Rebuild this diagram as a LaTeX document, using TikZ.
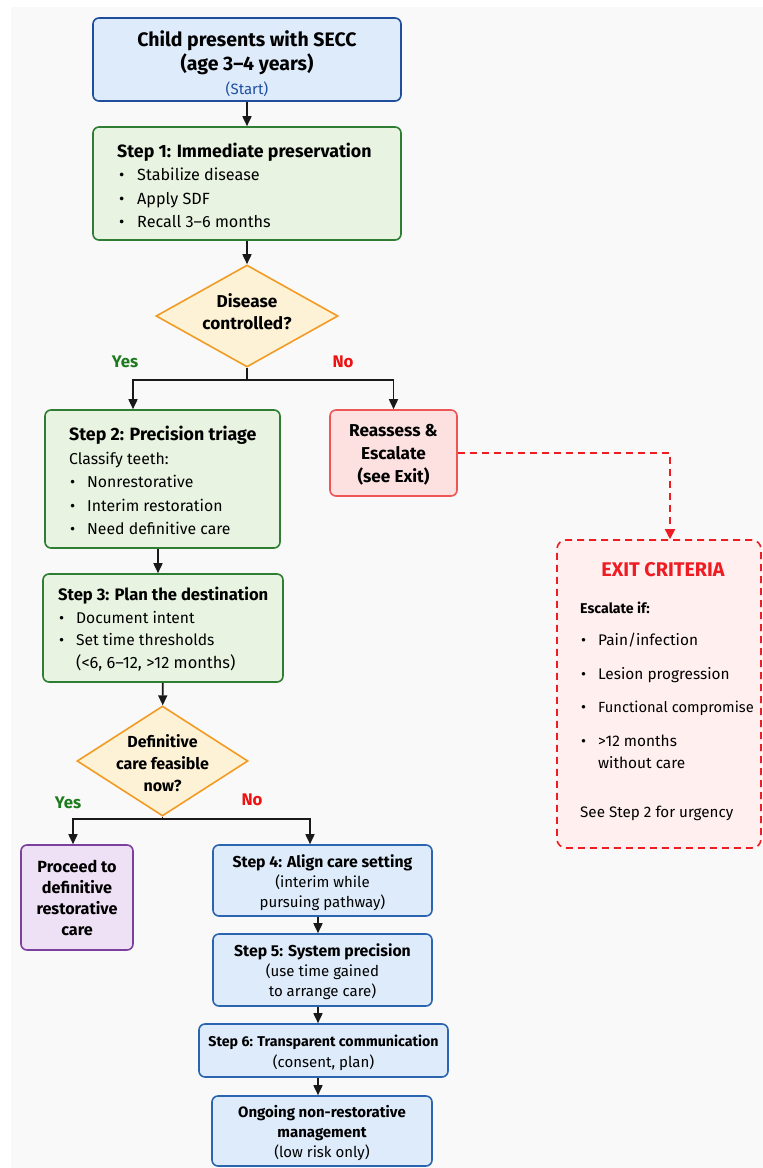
\documentclass[tikz,border=0pt]{standalone}
\usepackage{fontspec}
\setmainfont{Fira Sans}
\usetikzlibrary{shapes.geometric,arrows.meta,calc}
\definecolor{bgc}{HTML}{F9F9F9}
\definecolor{navy}{HTML}{1F4E9C}
\definecolor{bluefill}{HTML}{DDEBFA}
\definecolor{greenb}{HTML}{2E7D32}
\definecolor{greenf}{HTML}{E8F3E1}
\definecolor{orangeb}{HTML}{F29B24}
\definecolor{yellowf}{HTML}{FEF2D6}
\definecolor{redb}{HTML}{F05555}
\definecolor{redf}{HTML}{FDE1E1}
\definecolor{exitred}{HTML}{EE1D23}
\definecolor{exitf}{HTML}{FFEFEF}
\definecolor{purpb}{HTML}{7B3F9E}
\definecolor{purpf}{HTML}{EEE0F5}
\definecolor{blueb}{HTML}{2B65B0}
\definecolor{yesg}{HTML}{1E7A1E}
\definecolor{nor}{HTML}{EE1111}
\definecolor{startc}{HTML}{1F4FA0}
\newcommand\fsz[2]{\fontsize{#1}{#2}\selectfont}
\newcommand\bul{\makebox[20pt][l]{\hspace{2pt}•}}
\newcommand\buls{\makebox[18pt][l]{\hspace{1pt}•}}
\begin{document}
\begin{tikzpicture}[x=1pt,y=-1pt,
  box/.style={draw, rounded corners=6pt, line width=1.6pt, inner sep=0pt},
  startbox/.style={box, draw=navy, fill=bluefill},
  greenbox/.style={box, draw=greenb, fill=greenf},
  redbox/.style={box, draw=redb, fill=redf},
  purpbox/.style={box, draw=purpb, fill=purpf},
  bluebox/.style={box, draw=blueb, fill=bluefill},
  exitbox/.style={box, draw=exitred, fill=exitf, dash pattern=on 7pt off 5pt, rounded corners=9pt},
  dec/.style={diamond, draw=orangeb, fill=yellowf, line width=1.6pt, inner sep=0pt},
  ctext/.style={align=center, inner sep=0pt, font=\fsz{17.2}{22}\bfseries},
  ltext/.style={align=left, inner sep=0pt, anchor=west, font=\fsz{16}{23.5}},
  etext/.style={inner sep=0pt, anchor=west, text height=10pt, text depth=3pt, font=\fsz{15.4}{20}},
  lab/.style={inner sep=0pt, font=\fsz{16.8}{18}\bfseries},
  ln/.style={line width=1.6pt, draw=black!90},
  arr/.style={ln, -{Triangle[length=10pt,width=9pt]}},
  darr/.style={line width=1.6pt, draw=exitred, dash pattern=on 7pt off 5pt, -{Triangle[length=10pt,width=10pt]}},
]
\useasboundingbox (0,0) rectangle (763,1168);
\fill[white] (0,0) rectangle (763,1168);
\fill[bgc] (11,7) rectangle (763,1168);

% start
\node[startbox, minimum width=308pt, minimum height=83pt] (start) at (247,59.5) {};
\node[ctext, font=\fsz{19.5}{24}\bfseries] (startt) at (247,63.5) {Child presents with SECC\\(age 3–4 years)\\{\fsz{15}{23}\mdseries\color{startc}(Start)}};

% step 1
\node[greenbox, minimum width=308pt, minimum height=113pt] (s1) at (247,183.5) {};
\node[ltext, font=\fsz{16.2}{23.5}] (s1t) at (117,185.5) {{\fsz{17.8}{23.5}\bfseries Step 1: Immediate preservation}\\\bul Stabilize disease\\\bul Apply SDF\\\bul Recall 3–6 months};

% decision 1
\node[dec, minimum width=182pt, minimum height=102pt] (d1) at (247,316) {};
\node[ctext] (d1t) at (247,312) {Disease\\controlled?};

% step 2
\node[greenbox, minimum width=235pt, minimum height=138pt] (s2) at (162.5,479) {};
\node[ltext, font=\fsz{15.8}{23.5}] (s2t) at (69,480.5) {{\fsz{17.8}{23.5}\bfseries Step 2: Precision triage}\\Classify teeth:\\\buls Nonrestorative\\\buls Interim restoration\\\buls Need definitive care};

% reassess
\node[redbox, minimum width=127pt, minimum height=86pt] (re) at (393.5,453) {};
\node[ctext, font=\fsz{17.2}{23}\bfseries] (ret) at (393.5,455) {Reassess \&\\Escalate\\(see Exit)};

% exit
\node[exitbox, minimum width=204pt, minimum height=308pt] (ex) at (659,694) {};
\node[inner sep=0pt, font=\fsz{19.8}{20}\bfseries, text=exitred] (ex0) at (663,570) {EXIT CRITERIA};
\node[etext, font=\fsz{14.2}{20}\bfseries] (ex1) at (580,610) {Escalate if:};
\node[etext] (ex2) at (580,642) {\makebox[18pt][l]{\hspace{1pt}•}Pain/infection};
\node[etext] (ex3) at (580,676) {\makebox[18pt][l]{\hspace{1pt}•}Lesion progression};
\node[etext] (ex4) at (580,709) {\makebox[18pt][l]{\hspace{1pt}•}{\fsz{14.7}{20}Functional compromise}};
\node[etext] (ex5) at (580,743) {\makebox[18pt][l]{\hspace{1pt}•}>12 months};
\node[etext] (ex6) at (598,765) {without care};
\node[etext, font=\fsz{15.2}{20}] (ex7) at (580,814) {See Step 2 for urgency};

% step 3
\node[greenbox, minimum width=240pt, minimum height=108pt] (s3) at (163,628) {};
\node[ltext, font=\fsz{15.6}{22.5}] (s3t) at (58,629) {{\fsz{16.6}{22.5}\bfseries Step 3: Plan the destination}\\\buls Document intent\\\buls Set time thresholds\\\hspace*{18pt}{\fsz{16.4}{22.5}(<6, 6–12, >12 months)}};

% decision 2
\node[dec, minimum width=171pt, minimum height=110pt] (d2) at (162.5,761) {};
\node[ctext, font=\fsz{16}{22}\bfseries] (d2t) at (162.5,763) {Definitive\\care feasible\\now?};

% purple
\node[purpbox, minimum width=112pt, minimum height=105pt] (pu) at (77,897.5) {};
\node[ctext, font=\fsz{16.2}{21}\bfseries] (put) at (77,897.5) {Proceed to\\definitive\\restorative\\care};

% steps 4-6 + final
\node[bluebox, minimum width=219pt, minimum height=71pt] (s4) at (322.5,880.5) {};
\node[ctext, font=\fsz{15}{20}\mdseries] (s4t) at (322.5,883) {{\fsz{15.8}{20}\bfseries Step 4: Align care setting}\\(interim while\\pursuing pathway)};
\node[bluebox, minimum width=219pt, minimum height=72pt] (s5) at (322.5,970) {};
\node[ctext, font=\fsz{15}{20}\mdseries] (s5t) at (322.5,972) {{\fsz{15.8}{20}\bfseries Step 5: System precision}\\(use time gained\\to arrange care)};
\node[bluebox, minimum width=249pt, minimum height=53pt] (s6) at (323.5,1050.5) {};
\node[ctext, font=\fsz{15}{21}\mdseries] (s6t) at (323.5,1052.5) {{\fsz{14.2}{21}\bfseries Step 6: Transparent communication}\\(consent, plan)};
\node[bluebox, minimum width=220pt, minimum height=70pt] (fin) at (322,1131) {};
\node[ctext, font=\fsz{15}{20}\mdseries] (fint) at (322,1133) {{\bfseries Ongoing non-restorative}\\{\bfseries management}\\(low risk only)};

% labels
\node[lab, text=yesg] (y1) at (125,362) {Yes};
\node[lab, text=nor] (n1) at (343,362) {No};
\node[lab, text=yesg] (y2) at (68,803) {Yes};
\node[lab, text=nor] (n2) at (252,800) {No};

% junctions
\coordinate (j1) at (247,380);
\coordinate (yx1) at (133,0);
\coordinate (j2) at (162.5,819);
\coordinate (yx2) at (73,0);
\coordinate (nx2) at (310,0);
\coordinate (dx) at (670,0);
\coordinate (s23x) at (158,0);
\coordinate (bx) at (318,0);

% connectors
\draw[arr] (start) -- (s1);
\draw[arr] (s1) -- (d1);
\draw[ln] (d1.south) -- (j1);
\draw[arr] (j1) -| (s2.north -| yx1);
\draw[arr] (j1) -| (re.north);
\draw[arr] (s2.south -| s23x) -- (s3.north -| s23x);
\draw[arr] (s3) -- (d2);
\draw[ln] (d2.south) -- (j2);
\draw[arr] (j2) -| (pu.north -| yx2);
\draw[arr] (j2) -| (s4.north -| nx2);
\draw[arr] (s4.south -| bx) -- (s5.north -| bx);
\draw[arr] (s5.south -| bx) -- (s6.north -| bx);
\draw[arr] (s6.south -| bx) -- (fin.north -| bx);
\draw[darr] (re.east) -| (ex.north -| dx);
\end{tikzpicture}
\end{document}
